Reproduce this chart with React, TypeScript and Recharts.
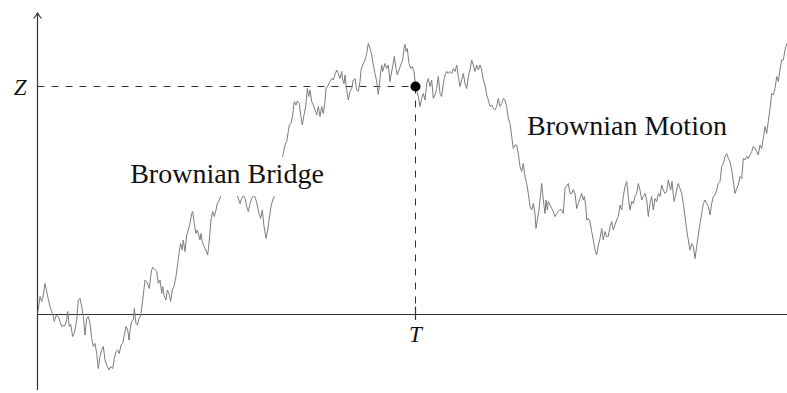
import React from 'react';
import { ComposedChart, Line, XAxis, YAxis, ReferenceLine, ReferenceDot } from 'recharts';

// Sample path of a Brownian bridge pinned at (T, Z), followed by a free Brownian motion.
const T = 378;
const Z = 2.28;

const bridgeTime = [
  0, 2.5, 4.2, 5.2, 7.5, 9.2, 10.8, 12.5, 14.2, 15.8, 16.8, 18.5, 20.8, 22.5, 24.2, 25.8, 27.5, 29.2, 30.2, 31.8,
  33.2, 35.2, 36.8, 39.2, 40.8, 42.5, 44.2, 45.8, 47.5, 49.2, 50.8, 52.5, 54.2, 55.8, 57.5, 59.2, 60.8, 62.5, 64.2, 65.8,
  67.5, 69.2, 71.5, 73.2, 75.2, 76.8, 78.5, 80.2, 81.8, 83.5, 85.2, 86.8, 88.5, 90.2, 91.5, 92.5, 94.2, 95.8, 96.8, 98.5,
  99.8, 101.5, 103.2, 105.8, 107.5, 109.2, 111.8, 113.2, 114.2, 115.2, 117.5, 119.2, 120.8, 122.5, 124.2, 125.2, 126.5, 128.5, 129.8, 131.5,
  133.2, 134.8, 136.5, 138.5, 140.2, 141.8, 143.2, 144.8, 145.8, 147.5, 149.2, 150.8, 152.5, 154.2, 155.2, 156.8, 158.5, 159.8, 161.2, 162.5,
  163.5, 164.8, 166.5, 168.2, 170.2, 171.8, 173.5, 175.2, 176.8, 178.5, 179.8, 181.8, 183.2, 185.5, 188.5, 191.5, 194.5, 197.5, 200.8, 202.5,
  204.2, 205.8, 207.5, 209.2, 210.8, 212.5, 214.2, 216.5, 218.5, 219.8, 221.5, 223.2, 224.8, 226.5, 228.5, 230.2, 231.8, 233.5, 235.2, 236.8,
  239.5, 242.5, 245.8, 247.5, 249.2, 250.8, 251.8, 253.5, 255.2, 256.8, 258.5, 259.8, 261.8, 263.2, 264.8, 266.5, 268.2, 269.8, 271.2, 272.5,
  274.2, 275.8, 277.5, 279.2, 280.8, 282.5, 284.2, 285.8, 287.5, 288.5, 290.8, 292.5, 294.2, 295.8, 297.5, 299.2, 300.8, 302.5, 304.2, 305.2,
  306.5, 307.5, 308.5, 309.8, 310.8, 312.5, 314.2, 315.8, 317.5, 319.2, 320.8, 322.5, 323.5, 325.2, 327.5, 329.2, 330.8, 332.5, 334.2, 335.8,
  337.5, 339.2, 340.8, 342.5, 344.2, 345.2, 347.5, 349.2, 350.8, 352.5, 353.5, 355.2, 356.8, 358.5, 359.8, 361.5, 363.2, 365.2, 366.5, 367.5,
  368.5, 369.8, 371.5, 373.2, 374.8, 376.5, 378,
];
const bridgeValue = [
  0, 0.18, 0.13, 0.16, 0.31, 0.23, 0.15, 0.08, 0.03, -0.02, -0.07, -0.01, -0.02, -0.07, -0.12, -0.11, -0.11, -0.055, 0.03, -0.12,
  -0.1, -0.22, -0.19, -0.055, 0.145, 0.16, 0.08, -0.02, -0.205, -0.04, -0.02, -0.09, -0.24, -0.32, -0.29, -0.39, -0.54, -0.42, -0.355, -0.32,
  -0.455, -0.505, -0.555, -0.52, -0.54, -0.44, -0.37, -0.355, -0.39, -0.305, -0.29, -0.205, -0.12, -0.155, -0.255, -0.155, -0.07, -0.055, 0.06, -0.09,
  -0.105, -0.04, -0.015, 0.195, 0.345, 0.33, 0.26, 0.38, 0.445, 0.47, 0.45, 0.43, 0.31, 0.345, 0.21, 0.28, 0.195, 0.145, 0.245, 0.21,
  0.13, 0.245, 0.28, 0.38, 0.51, 0.63, 0.71, 0.645, 0.745, 0.63, 0.795, 0.845, 0.91, 1.01, 1.03, 0.91, 0.81, 0.845, 0.795, 0.745,
  0.81, 0.73, 0.68, 0.645, 0.595, 0.745, 0.945, 1.03, 0.98, 1.045, 1.11, 1.145, 1.18, 1.245, 1.195, 1.285, 1.225, 1.265, 1.16, 1.11,
  1.16, 1.195, 1.16, 1.08, 1.03, 1.11, 1.16, 1.195, 1.145, 1.095, 1.01, 0.96, 1.045, 0.88, 0.76, 0.845, 0.96, 1.08, 1.145, 1.18,
  1.295, 1.465, 1.61, 1.695, 1.73, 1.83, 1.895, 1.91, 1.995, 2.13, 2.095, 2.135, 2.11, 1.995, 1.895, 1.995, 2.08, 2.26, 2.18, 2.245,
  2.13, 2.095, 2.045, 1.995, 2.08, 1.98, 2.08, 2.01, 2.13, 2.26, 2.295, 2.33, 2.36, 2.345, 2.4, 2.445, 2.41, 2.36, 2.43, 2.345,
  2.31, 2.395, 2.295, 2.21, 2.145, 2.23, 2.26, 2.345, 2.36, 2.245, 2.23, 2.33, 2.445, 2.495, 2.545, 2.61, 2.71, 2.66, 2.595, 2.495,
  2.41, 2.33, 2.2, 2.36, 2.495, 2.43, 2.51, 2.46, 2.495, 2.33, 2.395, 2.48, 2.58, 2.46, 2.395, 2.445, 2.495, 2.545, 2.66, 2.7,
  2.63, 2.66, 2.51, 2.46, 2.48, 2.43, 2.28,
];

const motionTime = [
  378, 380.8, 382.5, 384.2, 385.8, 387.5, 389.2, 390.8, 392.5, 394.2, 395.8, 397.5, 399.2, 400.8, 402.5, 404.2, 405.8, 407.5, 409.2, 410.8,
  412.5, 414.2, 415.8, 417.5, 419.2, 420.8, 422.5, 424.2, 425.8, 427.5, 429.2, 430.8, 432.5, 434.2, 435.8, 437.5, 439.2, 440.8, 442.5, 444.2,
  445.8, 447.5, 449.2, 450.8, 452.5, 454.2, 455.8, 457.5, 459.2, 460.8, 462.5, 464.2, 465.8, 467.5, 469.2, 470.8, 472.5, 474.2, 475.8, 477.5,
  479.2, 480.8, 482.5, 484.2, 485.8, 487.5, 489.2, 490.8, 492.5, 494.2, 495.8, 497.5, 498.5, 499.8, 501.5, 503.2, 504.2, 505.8, 507.5, 508.5,
  509.8, 510.8, 512.5, 514.2, 515.8, 517.5, 519.2, 520.8, 522.5, 524.2, 525.8, 527.5, 529.2, 530.8, 532.5, 534.2, 535.8, 537.5, 539.2, 540.8,
  542.5, 544.2, 545.8, 546.8, 548.2, 549.2, 550.8, 552.5, 554.2, 555.8, 557.5, 559.2, 560.8, 562.5, 564.2, 565.8, 567.5, 569.2, 570.8, 572.5,
  574.2, 575.8, 577.5, 579.2, 580.8, 582.5, 584.2, 585.8, 587.5, 589.2, 590.8, 592.5, 594.2, 595.8, 597.5, 599.2, 600.8, 602.5, 604.2, 605.8,
  607.5, 609.2, 610.8, 612.5, 614.2, 615.8, 617.5, 619.2, 620.8, 622.5, 624.2, 625.8, 627.5, 629.2, 630.8, 633.2, 634.5, 636.5, 638.5, 639.8,
  640.8, 642.5, 644.2, 645.8, 647.5, 649.2, 650.8, 652.5, 654.2, 655.8, 657.5, 659.2, 660.8, 662.5, 664.2, 665.8, 667.5, 669.2, 670.8, 672.5,
  674.2, 675.8, 677.5, 679.2, 680.8, 682.5, 684.2, 685.8, 687.5, 689.2, 690.8, 692.5, 694.2, 695.8, 697.5, 699.2, 700.8, 702.5, 704.2, 705.8,
  707.5, 709.2, 710.8, 712.5, 714.2, 715.8, 717.5, 719.2, 720.8, 722.5, 724.2, 725.8, 727.5, 729.2, 730.8, 732.5, 734.2, 735.8, 737.5, 739.2,
  740.8, 742.5, 744.2, 745.8, 747.5, 749.2,
];
const motionValue = [
  2.28, 2.18, 2.08, 2.16, 2.21, 2.145, 2.31, 2.36, 2.28, 2.345, 2.16, 2.195, 2.26, 2.38, 2.21, 2.18, 2.31, 2.395, 2.43, 2.41,
  2.43, 2.41, 2.46, 2.43, 2.495, 2.38, 2.28, 2.345, 2.41, 2.31, 2.26, 2.38, 2.445, 2.545, 2.495, 2.43, 2.495, 2.445, 2.495, 2.445,
  2.345, 2.295, 2.195, 2.145, 2.08, 2.095, 2.06, 2.045, 2.08, 2.16, 2.08, 2.11, 2.16, 2.145, 2.08, 1.96, 1.91, 1.78, 1.66, 1.695,
  1.695, 1.61, 1.48, 1.43, 1.51, 1.38, 1.31, 1.21, 1.08, 1.045, 1.11, 1.01, 0.86, 0.945, 1.045, 1.21, 1.31, 1.145, 1.01, 1.145,
  1.045, 1.13, 1.095, 1.06, 1.03, 0.98, 1.01, 1.03, 1.05, 1.045, 1.01, 1.26, 1.285, 1.31, 1.21, 1.21, 1.25, 1.21, 1.06, 1.11,
  1.16, 1.21, 1.145, 1.18, 1.095, 0.945, 0.96, 0.93, 0.83, 0.745, 0.645, 0.595, 0.695, 0.76, 0.86, 0.745, 0.83, 0.78, 0.78, 0.88,
  0.93, 0.845, 0.895, 0.945, 0.98, 1.095, 1.045, 1.18, 1.28, 1.33, 1.18, 1.045, 1.13, 1.11, 1.18, 1.21, 1.31, 1.245, 1.145, 1.18,
  1.21, 1.145, 0.98, 1.11, 1.18, 1.045, 1.16, 1.13, 1.21, 1.18, 1.295, 1.245, 1.21, 1.23, 1.345, 1.245, 1.33, 1.13, 1.21, 1.28,
  1.31, 1.26, 1.21, 1.11, 0.98, 0.845, 0.745, 0.645, 0.71, 0.68, 0.56, 0.68, 0.795, 0.91, 1.01, 1.11, 1.145, 1.11, 1.08, 0.995,
  1.11, 1.18, 1.195, 1.245, 1.31, 1.33, 1.48, 1.51, 1.58, 1.61, 1.56, 1.53, 1.445, 1.33, 1.21, 1.26, 1.295, 1.38, 1.36, 1.56,
  1.545, 1.58, 1.56, 1.595, 1.63, 1.68, 1.66, 1.63, 1.595, 1.695, 1.66, 1.76, 1.88, 1.81, 1.93, 2.06, 2.21, 2.195, 2.26, 2.38,
  2.33, 2.445, 2.545, 2.545, 2.645, 2.71,
];

const labels = ['Brownian Bridge', 'Brownian Motion'];

const bridgeData = bridgeTime.map((t, i) => ({ t, w: bridgeValue[i] }));
const motionData = motionTime.map((t, i) => ({ t, w: motionValue[i] }));

const AXIS = '#333';
const PATH = '#7c7c7c';
const SERIF = 'Liberation Serif';

const YAxisArrow = (p: any) => {
  const top = Math.min(p.y1, p.y2);
  const bottom = Math.max(p.y1, p.y2);
  const x = p.x1;
  return (
    <g>
      <line x1={x} y1={top} x2={x} y2={bottom} stroke={AXIS} strokeWidth={1.2} />
      <path
        d={`M ${x - 4} ${top + 5.5} Q ${x - 1} ${top + 2} ${x} ${top} Q ${x + 1} ${top + 2} ${x + 4} ${top + 5.5}`}
        fill="none"
        stroke={AXIS}
        strokeWidth={1.1}
      />
    </g>
  );
};

// White-backed text box centred on a data point.
const BoxedLabel = (text: string, width: number) => (p: any) => (
  <g>
    <rect x={p.cx - width / 2 - 6} y={p.cy - 19} width={width + 12} height={39} fill="#fff" />
    <text
      x={p.cx}
      y={p.cy + 7}
      textAnchor="middle"
      style={{ fontFamily: SERIF, fontSize: 28 }}
      fill="#111"
    >
      {text}
    </text>
  </g>
);

const MathLabel = (text: string, dx: number, dy: number, anchor: string) => (p: any) => (
  <text
    x={p.cx + dx}
    y={p.cy + dy}
    textAnchor={anchor}
    style={{ fontFamily: SERIF, fontStyle: 'italic', fontSize: 23 }}
    fill="#111"
  >
    {text}
  </text>
);

export default function App() {
  return (
    <div style={{ position: 'absolute', left: 0, top: 0, width: 787, height: 393, background: '#fff' }}>
      <ComposedChart width={787} height={393} margin={{ top: 13, right: 0, bottom: 3, left: 37.5 }}>
        <XAxis type="number" dataKey="t" domain={[0, 749.5]} allowDataOverflow hide />
        <YAxis type="number" domain={[-0.755, 3.015]} allowDataOverflow hide />

        <ReferenceLine y={0} stroke={AXIS} strokeWidth={1.2} />
        <ReferenceLine x={0} shape={YAxisArrow} />

        <ReferenceLine
          segment={[{ x: 0, y: Z }, { x: T, y: Z }]}
          stroke={AXIS}
          strokeWidth={1}
          strokeDasharray="7 7"
        />
        <ReferenceLine
          segment={[{ x: T, y: Z }, { x: T, y: 0 }]}
          stroke={AXIS}
          strokeWidth={1}
          strokeDasharray="7 7"
        />
        <ReferenceLine
          segment={[{ x: T, y: 0.08 }, { x: T, y: -0.055 }]}
          stroke={AXIS}
          strokeWidth={1.2}
          ifOverflow="visible"
        />

        <Line data={bridgeData} dataKey="w" type="linear" stroke={PATH} strokeWidth={1} dot={false} activeDot={false} isAnimationActive={false} />
        <Line data={motionData} dataKey="w" type="linear" stroke={PATH} strokeWidth={1} dot={false} activeDot={false} isAnimationActive={false} />

        <ReferenceDot x={T} y={Z} r={5} fill="#000" stroke="none" />
        <ReferenceDot x={189.5} y={1.385} r={0} shape={BoxedLabel(labels[0], 196)} ifOverflow="visible" />
        <ReferenceDot x={589.5} y={1.865} r={0} shape={BoxedLabel(labels[1], 202)} ifOverflow="visible" />
        <ReferenceDot x={0} y={Z} r={0} shape={MathLabel('Z', -11, 8, 'end')} ifOverflow="visible" />
        <ReferenceDot x={T} y={0} r={0} shape={MathLabel('T', 0, 27, 'middle')} ifOverflow="visible" />
      </ComposedChart>
    </div>
  );
}
